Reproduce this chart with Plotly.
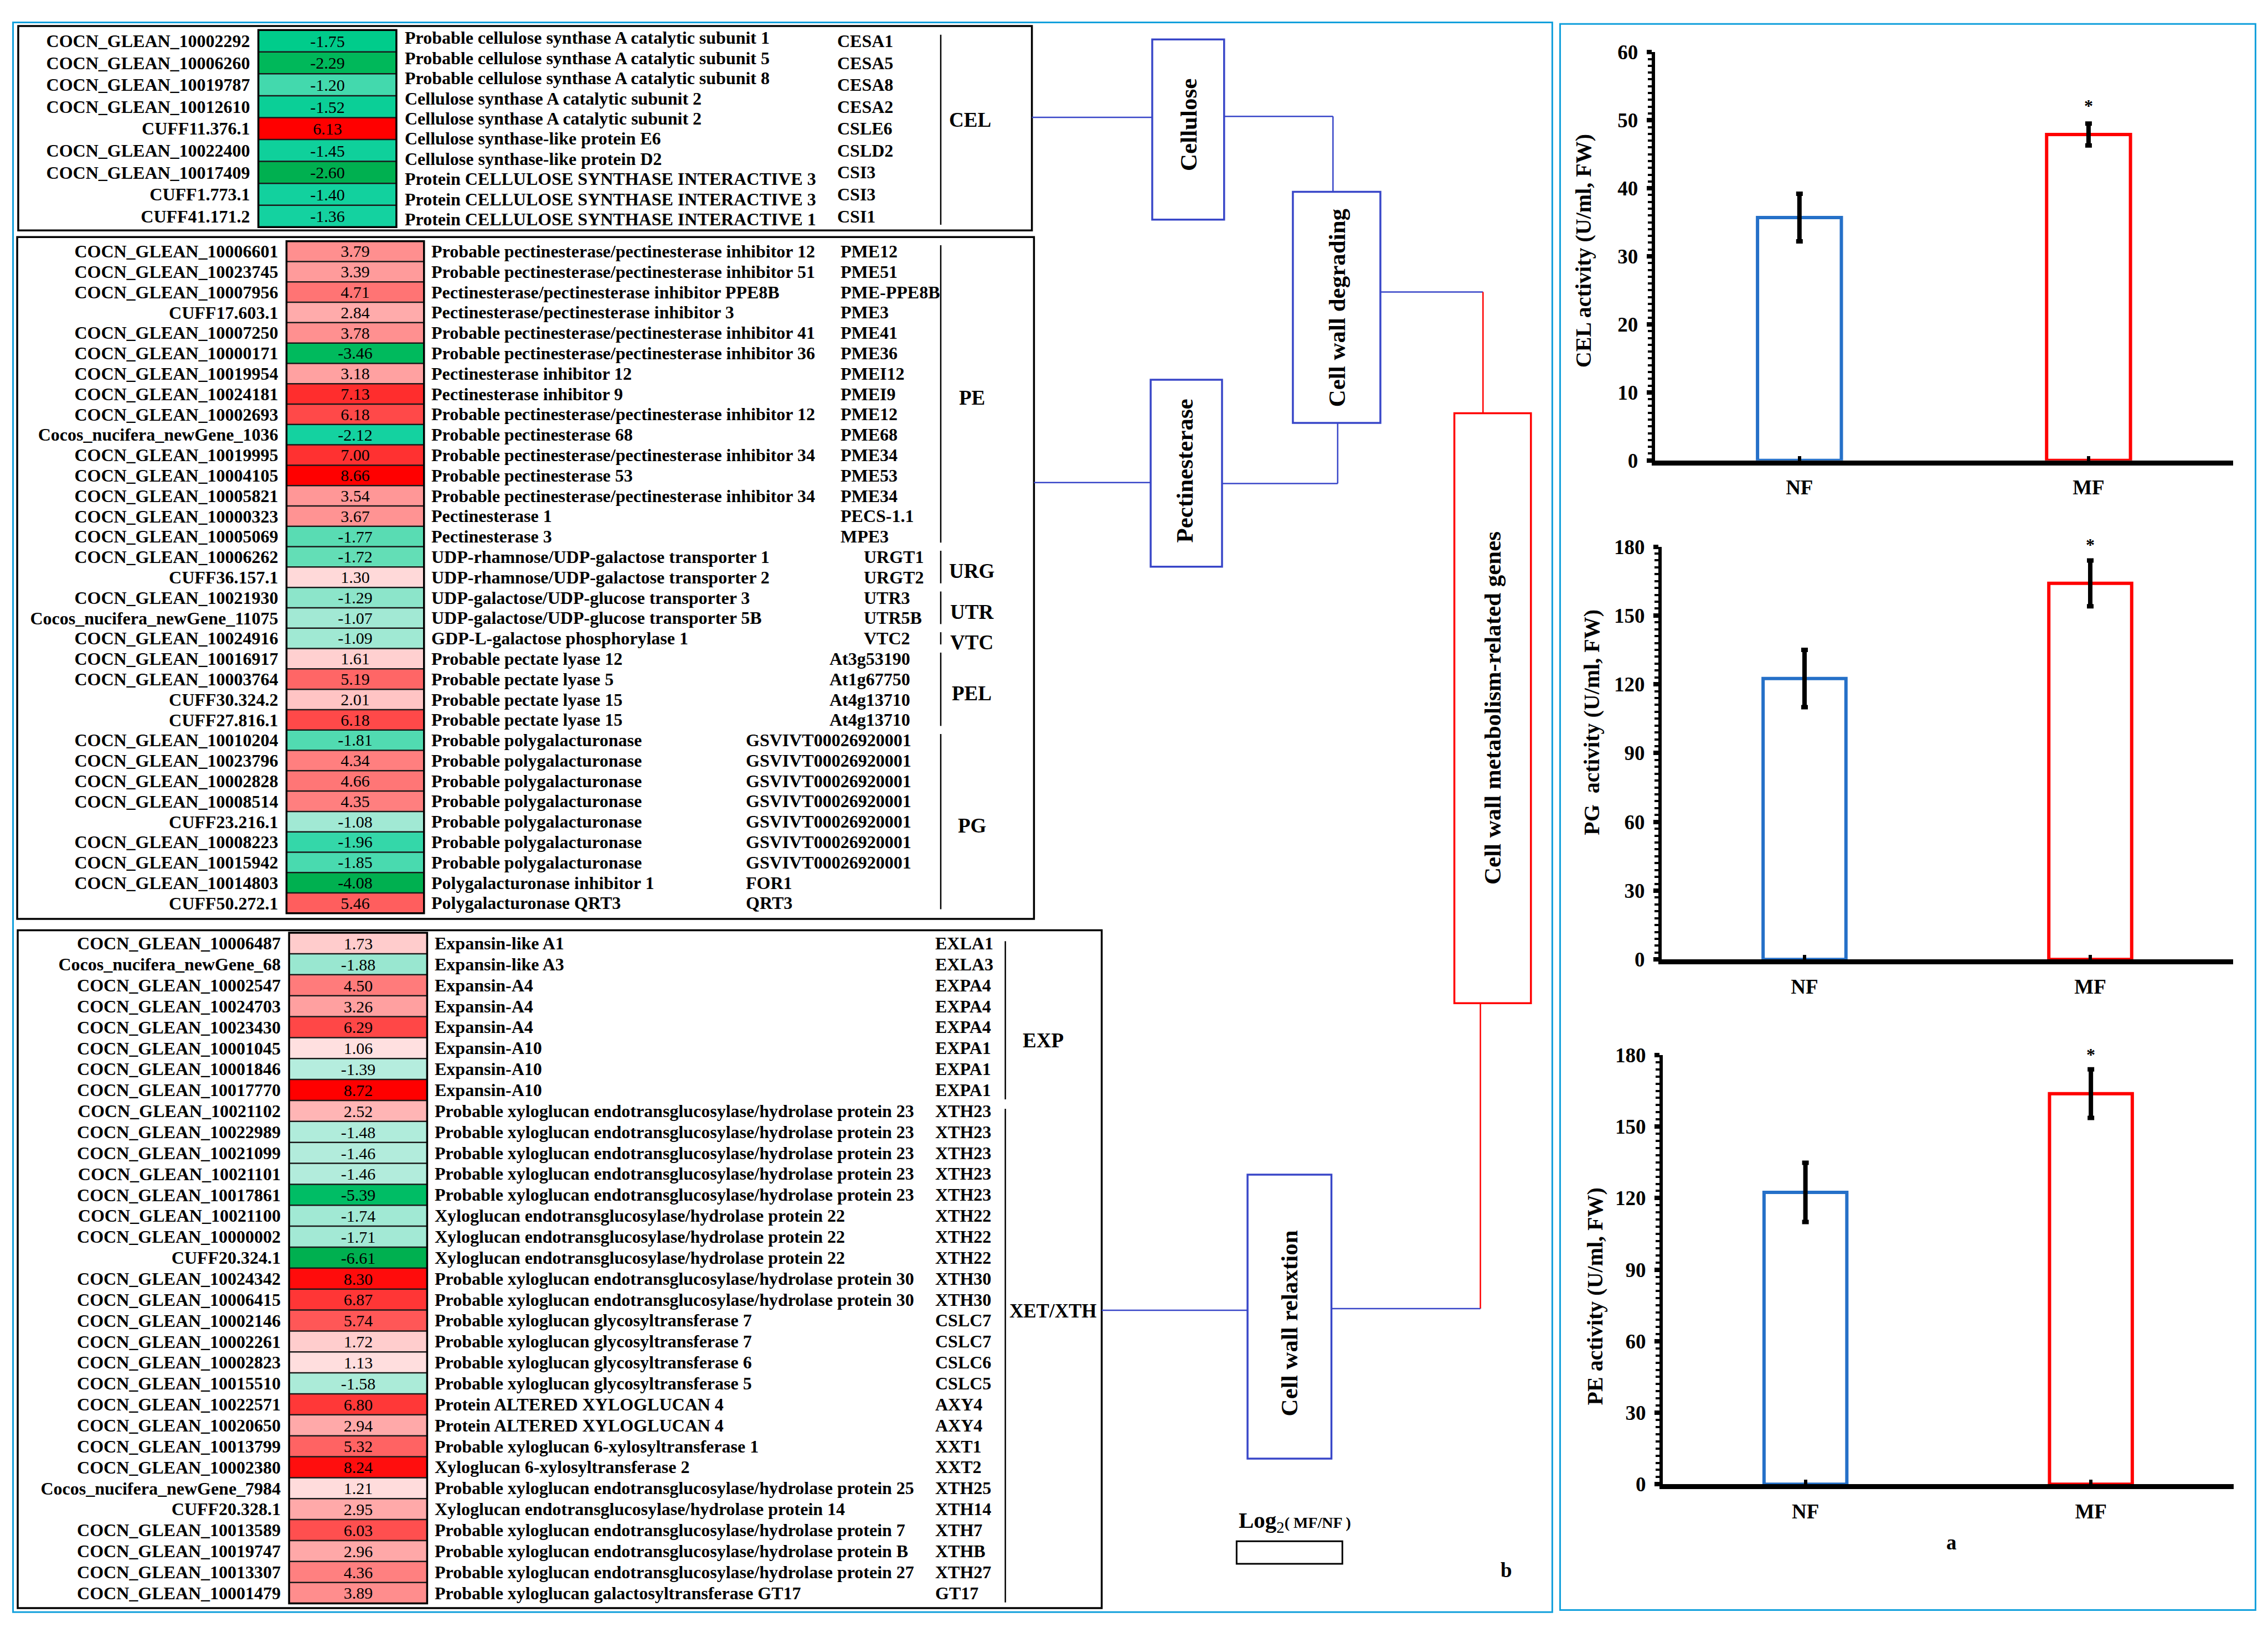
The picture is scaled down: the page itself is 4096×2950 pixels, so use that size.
import plotly.graph_objects as go

# ---------------- data ----------------
cel_ids = ["COCN_GLEAN_10002292", "COCN_GLEAN_10006260", "COCN_GLEAN_10019787", "COCN_GLEAN_10012610",
           "CUFF11.376.1", "COCN_GLEAN_10022400", "COCN_GLEAN_10017409", "CUFF1.773.1", "CUFF41.171.2"]
cel_vals = [-1.75, -2.29, -1.20, -1.52, 6.13, -1.45, -2.60, -1.40, -1.36]
cel_desc = ["Probable cellulose synthase A catalytic subunit 1", "Probable cellulose synthase A catalytic subunit 5",
            "Probable cellulose synthase A catalytic subunit 8", "Cellulose synthase A catalytic subunit 2",
            "Cellulose synthase A catalytic subunit 2", "Cellulose synthase-like protein E6",
            "Cellulose synthase-like protein D2", "Protein CELLULOSE SYNTHASE INTERACTIVE 3",
            "Protein CELLULOSE SYNTHASE INTERACTIVE 3", "Protein CELLULOSE SYNTHASE INTERACTIVE 1"]
cel_sym = ["CESA1", "CESA5", "CESA8", "CESA2", "CSLE6", "CSLD2", "CSI3", "CSI3", "CSI1"]

pe_ids = ["COCN_GLEAN_10006601", "COCN_GLEAN_10023745", "COCN_GLEAN_10007956", "CUFF17.603.1",
          "COCN_GLEAN_10007250", "COCN_GLEAN_10000171", "COCN_GLEAN_10019954", "COCN_GLEAN_10024181",
          "COCN_GLEAN_10002693", "Cocos_nucifera_newGene_1036", "COCN_GLEAN_10019995", "COCN_GLEAN_10004105",
          "COCN_GLEAN_10005821", "COCN_GLEAN_10000323", "COCN_GLEAN_10005069", "COCN_GLEAN_10006262",
          "CUFF36.157.1", "COCN_GLEAN_10021930", "Cocos_nucifera_newGene_11075", "COCN_GLEAN_10024916",
          "COCN_GLEAN_10016917", "COCN_GLEAN_10003764", "CUFF30.324.2", "CUFF27.816.1",
          "COCN_GLEAN_10010204", "COCN_GLEAN_10023796", "COCN_GLEAN_10002828", "COCN_GLEAN_10008514",
          "CUFF23.216.1", "COCN_GLEAN_10008223", "COCN_GLEAN_10015942", "COCN_GLEAN_10014803", "CUFF50.272.1"]
pe_vals = [3.79, 3.39, 4.71, 2.84, 3.78, -3.46, 3.18, 7.13, 6.18, -2.12, 7.00, 8.66, 3.54, 3.67, -1.77,
           -1.72, 1.30, -1.29, -1.07, -1.09, 1.61, 5.19, 2.01, 6.18, -1.81, 4.34, 4.66, 4.35, -1.08,
           -1.96, -1.85, -4.08, 5.46]
pe_desc = ["Probable pectinesterase/pectinesterase inhibitor 12", "Probable pectinesterase/pectinesterase inhibitor 51",
           "Pectinesterase/pectinesterase inhibitor PPE8B", "Pectinesterase/pectinesterase inhibitor 3",
           "Probable pectinesterase/pectinesterase inhibitor 41", "Probable pectinesterase/pectinesterase inhibitor 36",
           "Pectinesterase inhibitor 12", "Pectinesterase inhibitor 9",
           "Probable pectinesterase/pectinesterase inhibitor 12", "Probable pectinesterase 68",
           "Probable pectinesterase/pectinesterase inhibitor 34", "Probable pectinesterase 53",
           "Probable pectinesterase/pectinesterase inhibitor 34", "Pectinesterase 1", "Pectinesterase 3",
           "UDP-rhamnose/UDP-galactose transporter 1", "UDP-rhamnose/UDP-galactose transporter 2",
           "UDP-galactose/UDP-glucose transporter 3", "UDP-galactose/UDP-glucose transporter 5B",
           "GDP-L-galactose phosphorylase 1", "Probable pectate lyase 12", "Probable pectate lyase 5",
           "Probable pectate lyase 15", "Probable pectate lyase 15",
           "Probable polygalacturonase", "Probable polygalacturonase", "Probable polygalacturonase",
           "Probable polygalacturonase", "Probable polygalacturonase", "Probable polygalacturonase",
           "Probable polygalacturonase", "Polygalacturonase inhibitor 1", "Polygalacturonase QRT3"]
pe_sym = ["PME12", "PME51", "PME-PPE8B", "PME3", "PME41", "PME36", "PMEI12", "PMEI9", "PME12", "PME68",
          "PME34", "PME53", "PME34", "PECS-1.1", "MPE3", "URGT1", "URGT2", "UTR3", "UTR5B", "VTC2",
          "At3g53190", "At1g67750", "At4g13710", "At4g13710",
          "GSVIVT00026920001", "GSVIVT00026920001", "GSVIVT00026920001", "GSVIVT00026920001",
          "GSVIVT00026920001", "GSVIVT00026920001", "GSVIVT00026920001", "FOR1", "QRT3"]
pe_groups = [("PE", 0, 14), ("URG", 15, 16), ("UTR", 17, 18), ("VTC", 19, 19), ("PEL", 20, 23), ("PG", 24, 32)]

xth_ids = ["COCN_GLEAN_10006487", "Cocos_nucifera_newGene_68", "COCN_GLEAN_10002547", "COCN_GLEAN_10024703",
           "COCN_GLEAN_10023430", "COCN_GLEAN_10001045", "COCN_GLEAN_10001846", "COCN_GLEAN_10017770",
           "COCN_GLEAN_10021102", "COCN_GLEAN_10022989", "COCN_GLEAN_10021099", "COCN_GLEAN_10021101",
           "COCN_GLEAN_10017861", "COCN_GLEAN_10021100", "COCN_GLEAN_10000002", "CUFF20.324.1",
           "COCN_GLEAN_10024342", "COCN_GLEAN_10006415", "COCN_GLEAN_10002146", "COCN_GLEAN_10002261",
           "COCN_GLEAN_10002823", "COCN_GLEAN_10015510", "COCN_GLEAN_10022571", "COCN_GLEAN_10020650",
           "COCN_GLEAN_10013799", "COCN_GLEAN_10002380", "Cocos_nucifera_newGene_7984", "CUFF20.328.1",
           "COCN_GLEAN_10013589", "COCN_GLEAN_10019747", "COCN_GLEAN_10013307", "COCN_GLEAN_10001479"]
xth_vals = [1.73, -1.88, 4.50, 3.26, 6.29, 1.06, -1.39, 8.72, 2.52, -1.48, -1.46, -1.46, -5.39, -1.74,
            -1.71, -6.61, 8.30, 6.87, 5.74, 1.72, 1.13, -1.58, 6.80, 2.94, 5.32, 8.24, 1.21, 2.95, 6.03,
            2.96, 4.36, 3.89]
XTH23 = "Probable xyloglucan endotransglucosylase/hydrolase protein 23"
XTH22 = "Xyloglucan endotransglucosylase/hydrolase protein 22"
XTH30 = "Probable xyloglucan endotransglucosylase/hydrolase protein 30"
xth_desc = ["Expansin-like A1", "Expansin-like A3", "Expansin-A4", "Expansin-A4", "Expansin-A4",
            "Expansin-A10", "Expansin-A10", "Expansin-A10",
            XTH23, XTH23, XTH23, XTH23, XTH23, XTH22, XTH22, XTH22, XTH30, XTH30,
            "Probable xyloglucan glycosyltransferase 7", "Probable xyloglucan glycosyltransferase 7",
            "Probable xyloglucan glycosyltransferase 6", "Probable xyloglucan glycosyltransferase 5",
            "Protein ALTERED XYLOGLUCAN 4", "Protein ALTERED XYLOGLUCAN 4",
            "Probable xyloglucan 6-xylosyltransferase 1", "Xyloglucan 6-xylosyltransferase 2",
            "Probable xyloglucan endotransglucosylase/hydrolase protein 25",
            "Xyloglucan endotransglucosylase/hydrolase protein 14",
            "Probable xyloglucan endotransglucosylase/hydrolase protein 7",
            "Probable xyloglucan endotransglucosylase/hydrolase protein B",
            "Probable xyloglucan endotransglucosylase/hydrolase protein 27",
            "Probable xyloglucan galactosyltransferase GT17"]
xth_sym = ["EXLA1", "EXLA3", "EXPA4", "EXPA4", "EXPA4", "EXPA1", "EXPA1", "EXPA1",
           "XTH23", "XTH23", "XTH23", "XTH23", "XTH23", "XTH22", "XTH22", "XTH22", "XTH30", "XTH30",
           "CSLC7", "CSLC7", "CSLC6", "CSLC5", "AXY4", "AXY4", "XXT1", "XXT2", "XTH25", "XTH14",
           "XTH7", "XTHB", "XTH27", "GT17"]
xth_groups = [("EXP", 0, 7), ("XET/XTH", 8, 31)]

bar_categories = ["NF", "MF"]
cel_activity = [35.7, 47.9]
cel_err = [3.5, 1.6]
pg_activity = [122.5, 164.0]
pg_err = [12.5, 10.0]
pe_activity = [122.4, 163.8]
pe_err = [12.4, 10.2]

# ---------------- layout helpers ----------------
W, H = 4096, 2950            # browser window
RW, RH = 4354, 3136          # reference pixel frame used as canvas coordinates
SX, SY = W / RW, H / RH
OFF = 8                      # default <body> margin of the html page
FW, FH = W - OFF, H - OFF    # figure size so that it ends at the window edge
FONT = "Liberation Serif"
BLUE = "#3846C8"
RED = "#FF0000"
PANEL = "#12A0DC"


def dom_x(a, b):
    return [(SX * a - OFF) / FW, (SX * b - OFF) / FW]


def dom_y(a, b):
    return [1 - (SY * b - OFF) / FH, 1 - (SY * a - OFF) / FH]


def colorscale(vmin, vmax):
    p0 = -vmin / (vmax - vmin)
    neg = [(1.0, (0, 176, 80)), (0.85, (0, 186, 92)), (0.67, (0, 204, 140)), (0.52, (20, 210, 160)),
           (0.42, (100, 222, 182)), (0.22, (178, 236, 220)), (0.0, (255, 255, 255))]
    cs = [[p0 * (1 - f), "rgb(%d,%d,%d)" % c] for f, c in neg]
    cs.append([1.0, "rgb(255,0,0)"])
    return cs


fig = go.Figure()
shapes, annos = [], []

# canvas axis (whole figure, reference pixel units)
fig.add_trace(go.Scatter(x=[RW / 2], y=[RH / 2], mode="markers", marker=dict(opacity=0), hoverinfo="skip",
                         showlegend=False, xaxis="x", yaxis="y"))
lay = dict(
    xaxis=dict(domain=[0, 1], range=[OFF / SX, (FW + OFF) / SX], visible=False, fixedrange=True),
    yaxis=dict(domain=[0, 1], range=[(FH + OFF) / SY, OFF / SY], visible=False, fixedrange=True),
)

TXT = 32      # table text
GRP = 37      # group labels


def text(x, y, s, xref="x", yref="y", size=TXT, xanchor="left", bold=True, angle=0, color="black"):
    annos.append(dict(x=x, y=y, xref=xref, yref=yref, text=("<b>%s</b>" % s) if bold else s,
                      showarrow=False, xanchor=xanchor, yanchor="middle", textangle=angle,
                      font=dict(family=FONT, size=size, color=color)))


def line(x0, y0, x1, y1, color="black", width=2.5, xref="x", yref="y"):
    shapes.append(dict(type="line", x0=x0, y0=y0, x1=x1, y1=y1, xref=xref, yref=yref,
                       line=dict(color=color, width=width)))


def rect(x0, y0, x1, y1, color="black", width=3.5, xref="x", yref="y", fill="rgba(0,0,0,0)"):
    shapes.append(dict(type="rect", x0=x0, y0=y0, x1=x1, y1=y1, xref=xref, yref=yref,
                       line=dict(color=color, width=width), fillcolor=fill))


# ---------------- heat-map tables ----------------
tables = [
    dict(ids=cel_ids, vals=cel_vals, ax=2, cx=(496, 761), cy=(36.7, 420.7), box=(35, 29, 1981, 427)),
    dict(ids=pe_ids, vals=pe_vals, ax=3, cx=(550, 814), cy=(448, 1757), box=(33, 440, 1985, 1768)),
    dict(ids=xth_ids, vals=xth_vals, ax=4, cx=(555, 820), cy=(1795, 3101), box=(34, 1790, 2115, 3110)),
]
for t in tables:
    n = len(t["vals"])
    a = t["ax"]
    vmin, vmax = min(t["vals"]), max(t["vals"])
    fig.add_trace(go.Heatmap(z=[[v] for v in t["vals"]], x=[0], y=list(range(n)),
                             xaxis="x%d" % a, yaxis="y%d" % a, colorscale=colorscale(vmin, vmax),
                             zmin=vmin, zmax=vmax, showscale=False, texttemplate="%{z:.2f}",
                             textfont=dict(family=FONT, size=30, color="black"), hoverinfo="skip"))
    lay["xaxis%d" % a] = dict(domain=dom_x(*t["cx"]), range=[-0.5, 0.5], visible=False,
                              anchor="y%d" % a, fixedrange=True)
    lay["yaxis%d" % a] = dict(domain=dom_y(*t["cy"]), range=[n - 0.5, -0.5], anchor="x%d" % a,
                              tickmode="array", tickvals=list(range(n)), ticktext=t["ids"], ticks="",
                              showgrid=False, zeroline=False, showline=False, ticklabelstandoff=14,
                              tickfont=dict(family=FONT, size=TXT, color="black", weight="bold"),
                              fixedrange=True)
    for i in range(n - 1):
        line(0, i + 0.5, 1, i + 0.5, color="#1a1a1a", width=2.5, xref="x%d domain" % a, yref="y%d" % a)
    rect(0, 0, 1, 1, width=3.5, xref="x%d domain" % a, yref="y%d domain" % a)
    bx = t["box"]
    rect(bx[0], bx[1], bx[2], bx[3], width=3.5)

# table 1 text (10 descriptions spread over the 9 rows, as in the source)
nd = len(cel_desc)
for j, d in enumerate(cel_desc):
    text(775, -0.15 + j * (len(cel_vals) - 0.7) / (nd - 1), d, yref="y2")
for i, s in enumerate(cel_sym):
    text(1605, i, s, yref="y2")
line(1806, 46, 1806, 416, width=2.5)
text(1862, 212, "CEL", size=GRP, xanchor="center")

# table 2 text
sym_x2 = {"PE": 1611, "URG": 1656, "UTR": 1656, "VTC": 1656, "PEL": 1590, "PG": 1430}
for g, s0, s1 in pe_groups:
    for i in range(s0, s1 + 1):
        text(826, i, pe_desc[i], yref="y3")
        text(sym_x2[g], i, pe_sym[i], yref="y3")
    line(1806, s0 - 0.3, 1806, s1 + 0.3, width=2.5, yref="y3")
    text(1866, (s0 + s1) / 2 + 0.2, g, yref="y3", size=GRP, xanchor="center")

# table 3 text
for g, s0, s1 in xth_groups:
    for i in range(s0, s1 + 1):
        text(832, i, xth_desc[i], yref="y4")
        text(1793, i, xth_sym[i], yref="y4")
    line(1930, s0 - 0.1, 1930, s1 + 0.45, width=2.5, yref="y4")
text(2003, 2005, "EXP", size=GRP, xanchor="center")
text(2022, 2532, "XET/XTH", size=35, xanchor="center")

# ---------------- pathway diagram ----------------
DG = 43
rect(2212, 55, 2350, 406, color=BLUE, width=3.5)
text(2281, 221, "Cellulose", size=DG, xanchor="center", angle=-90)
rect(2209, 718, 2346, 1082, color=BLUE, width=3.5)
text(2274, 895, "Pectinesterase", size=DG, xanchor="center", angle=-90)
rect(2482, 352, 2650, 802, color=BLUE, width=3.5)
text(2566, 577, "Cell wall degrading", size=DG, xanchor="center", angle=-90)
rect(2792, 783, 2939, 1932, color=RED, width=3.5)
text(2866, 1357, "Cell wall metabolism-related genes", size=DG, xanchor="center", angle=-90)
rect(2395, 2266, 2556, 2819, color=BLUE, width=3.5)
text(2475, 2555, "Cell wall relaxtion", size=DG, xanchor="center", angle=-90)

line(1981, 207, 2212, 207, color=BLUE)
line(2350, 205, 2559, 205, color=BLUE)
line(2559, 205, 2559, 352, color=BLUE)
line(1985, 918, 2209, 918, color=BLUE)
line(2346, 920, 2568, 920, color=BLUE)
line(2568, 920, 2568, 802, color=BLUE)
line(2650, 547, 2847, 547, color=BLUE)
line(2847, 547, 2847, 783, color=RED)
line(2842, 1932, 2842, 2527, color=RED)
line(2556, 2527, 2842, 2527, color=BLUE)
line(2115, 2530, 2395, 2530, color=BLUE)

# legend
annos.append(dict(x=2376, y=2942, xref="x", yref="y", showarrow=False, xanchor="left", yanchor="middle",
                  text="<b>Log</b><sub>2</sub><span style='font-size:28px'><b>( MF/NF )</b></span>",
                  font=dict(family=FONT, size=41, color="black")))
rect(2374, 2980, 2577, 3024, width=3)
text(2892, 3036, "b", size=37, xanchor="center")

# panel frames
rect(25, 22, 2980, 3118, color=PANEL, width=3)
rect(2995, 25, 4330, 3114, color=PANEL, width=3)

# ---------------- bar charts ----------------
bars = [
    dict(vals=cel_activity, err=cel_err, ax=5, cx=(3177, 4287), cy=(80, 875), rng=60, dt=10, mdt=1,
         title="CEL activity (U/ml, FW)", tpos=(3039, 467), star=12),
    dict(vals=pg_activity, err=pg_err, ax=6, cx=(3190, 4287), cy=(1043, 1847), rng=180, dt=30, mdt=3,
         title="PG\u00a0 activity (U/ml, FW)", tpos=(3056, 1385), star=8),
    dict(vals=pe_activity, err=pe_err, ax=7, cx=(3192, 4288), cy=(2033, 2869), rng=180, dt=30, mdt=3,
         title="PE activity (U/ml, FW)", tpos=(3062, 2503), star=7),
]
for b in bars:
    a = b["ax"]
    fig.add_trace(go.Bar(x=bar_categories, y=b["vals"], width=0.29, xaxis="x%d" % a, yaxis="y%d" % a,
                         marker=dict(color="white", line=dict(color=["#2570C8", RED], width=6)),
                         error_y=dict(type="data", array=b["err"], visible=True, color="black",
                                      thickness=8, width=6),
                         hoverinfo="skip", showlegend=False))
    lay["xaxis%d" % a] = dict(domain=dom_x(*b["cx"]), range=[-0.5, 1.5], anchor="y%d" % a,
                              showline=True, linecolor="black", linewidth=9, ticks="inside", ticklen=8,
                              tickwidth=6, tickcolor="black", showgrid=False, zeroline=False,
                              ticklabelstandoff=8, fixedrange=True,
                              tickfont=dict(family=FONT, size=37, color="black", weight="bold"))
    lay["yaxis%d" % a] = dict(domain=dom_y(*b["cy"]), range=[0, b["rng"]], dtick=b["dt"], tick0=0,
                              anchor="x%d" % a, showline=True, linecolor="black", linewidth=6,
                              ticks="outside", ticklen=9, tickwidth=8, tickcolor="black",
                              minor=dict(dtick=b["mdt"], ticks="outside", ticklen=7, tickwidth=4,
                                         tickcolor="black"),
                              showgrid=False, zeroline=False, ticklabelstandoff=8, fixedrange=True,
                              tickfont=dict(family=FONT, size=37, color="black", weight="bold"))
    annos.append(dict(x=1, y=b["vals"][1] + b["err"][1], xref="x%d" % a, yref="y%d" % a, text="<b>*</b>",
                      showarrow=False, yanchor="bottom", yshift=b["star"],
                      font=dict(family=FONT, size=32, color="black")))
    text(b["tpos"][0], b["tpos"][1], b["title"], size=40, xanchor="center", angle=-90)

text(3747, 2982, "a", size=37, xanchor="center")

fig.update_layout(width=FW, height=FH, margin=dict(l=0, r=0, t=0, b=0), paper_bgcolor="white",
                  plot_bgcolor="rgba(0,0,0,0)", showlegend=False, shapes=shapes, annotations=annos, **lay)
fig.write_html("out.html")
